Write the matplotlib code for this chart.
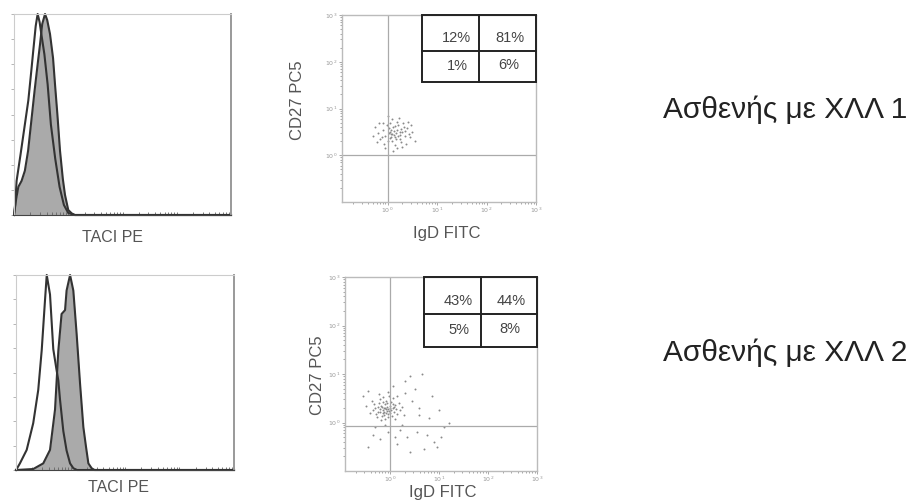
import numpy as np
import matplotlib
matplotlib.use("Agg")
import matplotlib.pyplot as plt
from matplotlib.patches import Rectangle

plt.rcParams["font.family"] = ["Liberation Sans", "DejaVu Sans"]

W, H = 918, 501

# ── histogram data (TACI PE, % of max) ──────────────────────────────────────
h1_ctrl_x = [0, 0.5, 1.2, 3, 5, 6.6, 8, 8.9, 10, 10.9, 11.8, 12.6, 14, 15.5, 17, 19, 21, 23, 25, 28, 100]
h1_ctrl_y = [0, 5, 17, 30, 45, 57, 72, 82, 94, 100, 96, 90, 80, 65, 45, 28, 14, 5, 1, 0, 0]
h1_taci_x = [0, 1, 2, 3.5, 5, 6.5, 8, 9.5, 11, 12, 13, 14.3, 15.3, 16.6, 18, 18.9, 20, 21.2, 22.5, 23.5, 25, 26.6, 28, 100]
h1_taci_y = [0, 8, 14, 17, 22, 32, 47, 62, 76, 85, 95, 100, 97, 90, 78, 65, 50, 32, 18, 10, 2.5, 0.8, 0, 0]

h2_ctrl_x = [0, 0.3, 1.8, 4.9, 7.9, 10.2, 11.8, 13.3, 14.1, 15.6, 17.1, 18.5, 19.4, 20.2, 21.7, 23.2, 24.8, 26.3, 28, 100]
h2_ctrl_y = [0, 0.5, 3.4, 10.3, 24, 41, 61.5, 87, 100, 90, 62, 52, 46, 36, 20, 10, 3.4, 0.9, 0, 0]
h2_taci_x = [0, 7.9, 12.5, 15.6, 17.9, 19.4, 20.9, 22.5, 23.2, 24.8, 26.3, 27.8, 29.4, 30.9, 32.1, 33.2, 34.7, 36, 100]
h2_taci_y = [0, 0.5, 3.4, 10.3, 31, 61, 80, 82, 92, 100, 92, 70, 44, 22, 12, 3.4, 0.9, 0, 0]

# ── dot plot data (log10 IgD FITC, log10 CD27 PC5) ──────────────────────────
s1_igd = [0.10, 0.05, 0.15, 0.20, -0.05, 0.12, 0.25, 0.00, 0.30, 0.18,
          -0.10, 0.08, 0.22, 0.35, -0.15, 0.28, 0.05, 0.40, -0.20, 0.15,
          0.02, 0.32, 0.45, -0.08, 0.10, 0.50, -0.25, 0.20, 0.38, -0.02,
          0.14, 0.26, 0.06, 0.18, -0.12, 0.33, 0.42, -0.18, 0.55, 0.00,
          0.24, -0.30, 0.12, 0.48, -0.05, 0.30, 0.08, 0.16, 0.22, 0.04,
          0.36, -0.10, 0.28, 0.10, 0.20, 0.44, -0.22, 0.02, 0.14, 0.26]
s1_cd27 = [0.45, 0.50, 0.40, 0.55, 0.42, 0.60, 0.35, 0.30, 0.50, 0.48,
           0.55, 0.38, 0.65, 0.42, 0.35, 0.28, 0.70, 0.58, 0.48, 0.22,
           0.58, 0.68, 0.38, 0.25, 0.78, 0.50, 0.60, 0.15, 0.25, 0.65,
           0.52, 0.44, 0.46, 0.34, 0.40, 0.60, 0.72, 0.70, 0.30, 0.85,
           0.80, 0.42, 0.10, 0.65, 0.15, 0.18, 0.55, 0.62, 0.42, 0.36,
           0.52, 0.68, 0.56, 0.30, 0.72, 0.45, 0.28, 0.48, 0.44, 0.50]

s2_igd = [-0.08, -0.12, -0.02, -0.15, 0.00, -0.20, -0.05, 0.05, -0.10, -0.18,
          -0.25, 0.02, -0.06, -0.14, 0.08, -0.22, -0.30, 0.10, -0.04, -0.16,
          -0.28, 0.12, -0.08, 0.00, -0.12, -0.20, 0.06, -0.35, 0.15, -0.02,
          -0.10, 0.18, -0.26, -0.06, 0.04, -0.18, 0.20, -0.32, -0.14, 0.10,
          -0.40, 0.25, -0.04, -0.22, 0.14, 0.28, -0.36, -0.10, -0.04, -0.16,
          0.02, -0.08, -0.12, 0.06, -0.20, -0.24, 0.00, -0.06, 0.08, -0.14,
          0.30, 0.45, 0.60, 0.80, 1.10, 1.20, 0.90, 0.55, 0.35, 0.20,
          -0.05, -0.30, -0.45, 0.70, 0.95, 0.40, 0.15, -0.20, 0.50, 0.65,
          0.40, -0.50, -0.55, 0.85, 1.00, 0.25, 0.10, -0.10, 0.75, 0.30,
          -0.35, 0.05, -0.45, 1.05, 0.60]
s2_cd27 = [0.27, 0.30, 0.24, 0.20, 0.35, 0.28, 0.18, 0.30, 0.38, 0.35,
           0.22, 0.42, 0.32, 0.26, 0.22, 0.40, 0.30, 0.36, 0.12, 0.14,
           0.18, 0.28, 0.45, 0.20, 0.22, 0.48, 0.50, 0.25, 0.18, 0.55,
           0.08, 0.40, 0.12, 0.40, 0.14, 0.05, 0.26, 0.38, 0.52, 0.08,
           0.20, 0.32, 0.62, 0.58, 0.55, 0.15, 0.45, 0.30, 0.28, 0.32,
           0.26, 0.20, 0.16, 0.38, 0.22, 0.32, 0.30, 0.24, 0.32, 0.42,
           0.60, 0.45, 0.30, 0.10, -0.10, 0.00, -0.40, -0.20, -0.30, -0.15,
           -0.20, -0.10, -0.50, -0.55, -0.50, -0.60, -0.45, -0.35, 0.70, 1.00,
           0.95, 0.35, 0.55, 0.55, 0.25, -0.05, -0.30, -0.05, -0.25, 0.85,
           -0.25, 0.75, 0.65, -0.30, 0.15]

quad1 = ["12%", "81%", "1%", "6%"]
quad2 = ["43%", "44%", "5%", "8%"]
gate1_cd27 = 0.0
gate2_cd27 = -0.08
patients = ["Ασθενής με ΧΛΛ 1", "Ασθενής με ΧΛΛ 2"]
decade_labels = [r"$10^0$", r"$10^1$", r"$10^2$", r"$10^3$"]


def px_rect(x0, y0, x1, y1):
    return [x0 / W, 1 - y1 / H, (x1 - x0) / W, (y1 - y0) / H]


def histogram(rect, cx, cy, tx, ty, label_xy):
    ax = fig.add_axes(rect)
    ax.fill_between(tx, ty, color="#aaaaaa", lw=0)
    ax.plot(tx, ty, color="#333333", lw=1.5, clip_on=False)
    ax.plot(cx, cy, color="#333333", lw=1.5, clip_on=False)
    ax.set_xlim(0, 100)
    ax.set_ylim(0, 100)
    for s in ["top", "left"]:
        ax.spines[s].set_color("#cccccc")
    ax.spines["right"].set_color("#999999")
    ax.spines["right"].set_linewidth(1.4)
    ax.spines["bottom"].set_color("#444444")
    ax.set_yticks(np.arange(0, 101, 12.5))
    ax.set_yticklabels([])
    ax.tick_params(axis="y", length=2, color="#aaaaaa", width=0.6)
    minor = [d * 25 + 25 * np.log10(m) for d in range(4) for m in range(1, 10)]
    ax.set_xticks(minor)
    ax.set_xticklabels([])
    ax.tick_params(axis="x", length=2, color="#666666", width=0.6, direction="in")
    fig.text(label_xy[0] / W, 1 - label_xy[1] / H, "TACI PE", ha="center", va="center",
             fontsize=11.5, color="#555555")
    return ax


def dotplot(rect, igd, cd27, gate_y, quad, xlab_xy, ylab_xy):
    ax = fig.add_axes(rect)
    ax.scatter(igd, cd27, s=2.0, color="#8a8a8a", lw=0)
    ax.set_xlim(-0.92, 3)
    ax.set_ylim(-1, 3)
    ax.axvline(0, color="#aaaaaa", lw=0.9)
    ax.axhline(gate_y, color="#aaaaaa", lw=0.9)
    for s in ax.spines.values():
        s.set_color("#bbbbbb")
        s.set_linewidth(1.0)
    ax.set_xticks(range(4))
    ax.set_xticklabels(decade_labels)
    ax.set_yticks(range(4))
    ax.set_yticklabels(decade_labels)
    minor = [d + np.log10(m) for d in range(-1, 3) for m in range(2, 10)]
    ax.set_xticks(minor, minor=True)
    ax.set_yticks(minor, minor=True)
    ax.tick_params(which="both", length=2, color="#999999", width=0.6,
                   labelsize=4.5, labelcolor="#999999", pad=1)
    ax.tick_params(which="minor", length=1.5)
    # quadrant statistics box
    x0, xm, y0, ym = 0.41, 0.706, 0.64, 0.81
    ax.add_patch(Rectangle((x0, y0), 1 - x0, 1 - y0, transform=ax.transAxes,
                           fill=False, ec="#222222", lw=1.4, clip_on=False, zorder=5))
    ax.plot([xm, xm], [y0, 1], transform=ax.transAxes, color="#222222", lw=1.4, clip_on=False, zorder=5)
    ax.plot([x0, 1], [ym, ym], transform=ax.transAxes, color="#222222", lw=1.4, clip_on=False, zorder=5)
    pos = [(0.59, 0.875), (0.865, 0.875), (0.595, 0.725), (0.86, 0.73)]
    for (tx, ty), t in zip(pos, quad):
        ax.text(tx, ty, t, transform=ax.transAxes, ha="center", va="center",
                fontsize=10.5, color="#444444")
    fig.text(xlab_xy[0] / W, 1 - xlab_xy[1] / H, "IgD FITC", ha="center", va="center",
             fontsize=12, color="#555555")
    fig.text(ylab_xy[0] / W, 1 - ylab_xy[1] / H, "CD27 PC5", ha="center", va="center",
             rotation=90, fontsize=12, color="#555555")
    return ax


fig = plt.figure(figsize=(W / 100, H / 100), dpi=100)

histogram(px_rect(14, 14, 231, 215), h1_ctrl_x, h1_ctrl_y, h1_taci_x, h1_taci_y, (113, 238))
histogram(px_rect(16, 275, 234, 470), h2_ctrl_x, h2_ctrl_y, h2_taci_x, h2_taci_y, (118, 488))

dotplot(px_rect(342, 15, 536, 202), s1_igd, s1_cd27, gate1_cd27, quad1, (447, 233), (298, 100))
dotplot(px_rect(345, 277, 537, 471), s2_igd, s2_cd27, gate2_cd27, quad2, (443, 492), (317, 375))

fig.text(663 / W, 1 - 110 / H, patients[0], ha="left", va="center", fontsize=21.5, color="#222222")
fig.text(663 / W, 1 - 353 / H, patients[1], ha="left", va="center", fontsize=21.5, color="#222222")

fig.savefig("out.png", dpi=100)
